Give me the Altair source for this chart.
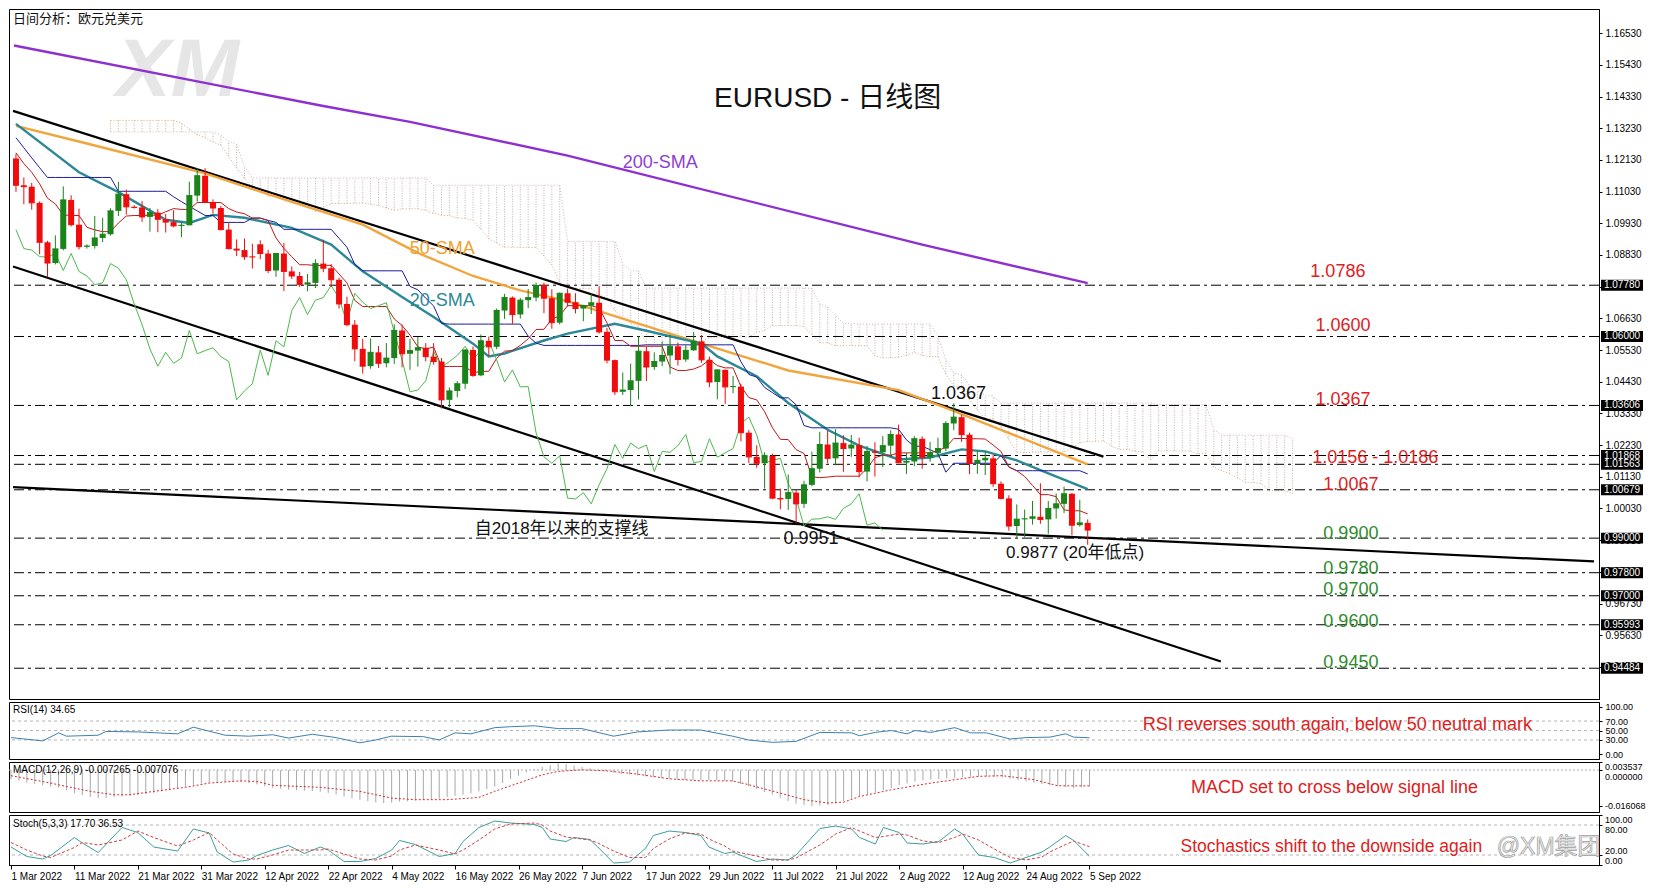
import altair as alt
import pandas as pd

# ---------------- data ----------------
date_labels = ["1 Mar 2022", "11 Mar 2022", "21 Mar 2022", "31 Mar 2022", "12 Apr 2022",
               "22 Apr 2022", "4 May 2022", "16 May 2022", "26 May 2022", "7 Jun 2022",
               "17 Jun 2022", "29 Jun 2022", "11 Jul 2022", "21 Jul 2022", "2 Aug 2022",
               "12 Aug 2022", "24 Aug 2022", "5 Sep 2022"]

opens = [1.1218, 1.1125, 1.1120, 1.1064, 1.0927, 1.0855, 1.0904, 1.1074, 1.0988, 1.0912,
         1.0914, 1.0942, 1.0955, 1.1036, 1.1094, 1.1050, 1.1048, 1.1015, 1.1030, 1.1007,
         1.0997, 1.0984, 1.0986, 1.1089, 1.1158, 1.1067, 1.1046, 1.0971, 1.0905, 1.0900,
         1.0877, 1.0920, 1.0888, 1.0829, 1.0888, 1.0826, 1.0810, 1.0780, 1.0786, 1.0853,
         1.0837, 1.0797, 1.0713, 1.0641, 1.0557, 1.0497, 1.0545, 1.0507, 1.0525, 1.0621,
         1.0540, 1.0551, 1.0561, 1.0530, 1.0513, 1.0380, 1.0411, 1.0436, 1.0553, 1.0465,
         1.0585, 1.0564, 1.0690, 1.0735, 1.0676, 1.0726, 1.0735, 1.0777, 1.0733, 1.0648,
         1.0750, 1.0719, 1.0697, 1.0707, 1.0717, 1.0616, 1.0518, 1.0408, 1.0414, 1.0446,
         1.0549, 1.0494, 1.0513, 1.0534, 1.0566, 1.0520, 1.0552, 1.0583, 1.0519, 1.0442,
         1.0484, 1.0425, 1.0426, 1.0266, 1.0182, 1.0160, 1.0186, 1.0039, 1.0036, 1.0058,
         1.0019, 1.0085, 1.0141, 1.0225, 1.0177, 1.0230, 1.0211, 1.0223, 1.0131, 1.0201,
         1.0198, 1.0221, 1.0260, 1.0162, 1.0166, 1.0245, 1.0181, 1.0196, 1.0211, 1.0298,
         1.0320, 1.0259, 1.0160, 1.0170, 1.0177, 1.0089, 1.0038, 0.9942, 0.9966, 0.9967,
         0.9974, 0.9965, 1.0003, 1.0019, 1.0054, 0.9945, 0.9953]
highs = [1.1234, 1.1152, 1.1133, 1.1069, 1.0932, 1.0951, 1.1121, 1.1090, 1.1044, 1.0920,
         1.1018, 1.1012, 1.1045, 1.1137, 1.1110, 1.1056, 1.1070, 1.1046, 1.1042, 1.1025,
         1.1038, 1.0995, 1.1137, 1.1185, 1.1184, 1.1076, 1.1053, 1.0995, 1.0937, 1.0940,
         1.0922, 1.0934, 1.0901, 1.0890, 1.0925, 1.0843, 1.0824, 1.0817, 1.0868, 1.0936,
         1.0851, 1.0804, 1.0738, 1.0657, 1.0592, 1.0593, 1.0567, 1.0577, 1.0642, 1.0641,
         1.0592, 1.0598, 1.0577, 1.0577, 1.0525, 1.0423, 1.0445, 1.0555, 1.0565, 1.0607,
         1.0600, 1.0697, 1.0748, 1.0739, 1.0734, 1.0765, 1.0787, 1.0787, 1.0764, 1.0753,
         1.0765, 1.0750, 1.0710, 1.0748, 1.0774, 1.0630, 1.0520, 1.0475, 1.0506, 1.0601,
         1.0565, 1.0545, 1.0583, 1.0606, 1.0579, 1.0570, 1.0615, 1.0605, 1.0530, 1.0486,
         1.0486, 1.0463, 1.0436, 1.0275, 1.0222, 1.0198, 1.0193, 1.0072, 1.0121, 1.0068,
         1.0099, 1.0200, 1.0269, 1.0273, 1.0278, 1.0257, 1.0258, 1.0249, 1.0220, 1.0233,
         1.0254, 1.0274, 1.0294, 1.0197, 1.0254, 1.0253, 1.0234, 1.0249, 1.0306, 1.0368,
         1.0328, 1.0266, 1.0203, 1.0202, 1.0188, 1.0097, 1.0049, 1.0017, 0.9999, 1.0029,
         1.0090, 1.0029, 1.0055, 1.0079, 1.0057, 1.0033, 0.9965]
lows = [1.1102, 1.1059, 1.1040, 1.0885, 1.0806, 1.0850, 1.0899, 1.0982, 1.0902, 1.0905,
        1.0905, 1.0928, 1.0950, 1.1018, 1.1023, 1.1044, 1.0998, 1.0964, 1.0962, 1.0961,
        1.0979, 1.0945, 1.0986, 1.1068, 1.1063, 1.1027, 1.0968, 1.0902, 1.0879, 1.0866,
        1.0836, 1.0868, 1.0820, 1.0807, 1.0758, 1.0800, 1.0772, 1.0757, 1.0768, 1.0823,
        1.0772, 1.0697, 1.0635, 1.0514, 1.0471, 1.0488, 1.0491, 1.0493, 1.0505, 1.0493,
        1.0484, 1.0495, 1.0514, 1.0502, 1.0350, 1.0354, 1.0389, 1.0418, 1.0460, 1.0462,
        1.0532, 1.0556, 1.0661, 1.0643, 1.0662, 1.0698, 1.0722, 1.0681, 1.0627, 1.0642,
        1.0704, 1.0680, 1.0653, 1.0678, 1.0610, 1.0507, 1.0397, 1.0397, 1.0358, 1.0381,
        1.0445, 1.0484, 1.0497, 1.0469, 1.0499, 1.0512, 1.0550, 1.0509, 1.0424, 1.0382,
        1.0366, 1.0403, 1.0236, 1.0161, 1.0144, 1.0072, 1.0035, 1.0000, 0.9998, 0.9951,
        1.0005, 1.0080, 1.0128, 1.0160, 1.0153, 1.0130, 1.0182, 1.0111, 1.0097, 1.0114,
        1.0146, 1.0182, 1.0160, 1.0123, 1.0150, 1.0141, 1.0165, 1.0179, 1.0202, 1.0275,
        1.0234, 1.0122, 1.0123, 1.0119, 1.0078, 1.0034, 0.9926, 0.9899, 0.9903, 0.9947,
        0.9950, 0.9915, 0.9968, 0.9987, 0.9910, 0.9940, 0.9877]
closes = [1.1125, 1.1120, 1.1064, 1.0927, 1.0855, 1.0904, 1.1074, 1.0988, 1.0912, 1.0914,
          1.0942, 1.0955, 1.1036, 1.1094, 1.1050, 1.1048, 1.1015, 1.1030, 1.1007, 1.0997,
          1.0984, 1.0986, 1.1089, 1.1158, 1.1067, 1.1046, 1.0971, 1.0905, 1.0900, 1.0877,
          1.0876, 1.0888, 1.0829, 1.0888, 1.0826, 1.0810, 1.0780, 1.0786, 1.0853, 1.0837,
          1.0797, 1.0713, 1.0641, 1.0557, 1.0497, 1.0545, 1.0507, 1.0525, 1.0621, 1.0540,
          1.0551, 1.0561, 1.0530, 1.0513, 1.0380, 1.0411, 1.0436, 1.0553, 1.0465, 1.0585,
          1.0564, 1.0690, 1.0735, 1.0676, 1.0726, 1.0735, 1.0777, 1.0733, 1.0648, 1.0750,
          1.0719, 1.0697, 1.0707, 1.0717, 1.0616, 1.0518, 1.0408, 1.0414, 1.0446, 1.0549,
          1.0494, 1.0513, 1.0534, 1.0566, 1.0520, 1.0552, 1.0583, 1.0519, 1.0442, 1.0484,
          1.0425, 1.0426, 1.0266, 1.0182, 1.0160, 1.0186, 1.0039, 1.0036, 1.0058, 1.0019,
          1.0085, 1.0141, 1.0225, 1.0177, 1.0230, 1.0211, 1.0223, 1.0131, 1.0201, 1.0198,
          1.0221, 1.0260, 1.0162, 1.0166, 1.0245, 1.0181, 1.0196, 1.0211, 1.0298, 1.0320,
          1.0259, 1.0160, 1.0170, 1.0177, 1.0089, 1.0038, 0.9942, 0.9966, 0.9967, 0.9974,
          0.9965, 1.0003, 1.0019, 1.0054, 0.9945, 0.9953, 0.9928]

sma20_bar = [0, 8, 13, 19, 22, 25, 29, 35, 40, 44, 49, 53, 58, 60, 62, 67, 70, 76, 80, 87,
             89, 94, 98, 103, 107, 112, 116, 120, 123, 127, 131, 136]
sma20_val = [1.1338, 1.1170, 1.1101, 1.1005, 1.0994, 1.1022, 1.1012, 1.0977, 1.0919, 1.0826,
             1.0737, 1.0668, 1.0575, 1.0531, 1.0541, 1.0586, 1.0610, 1.0644, 1.0620, 1.0575,
             1.0531, 1.0462, 1.0369, 1.0276, 1.0221, 1.0173, 1.0180, 1.0208, 1.0201, 1.0170,
             1.0125, 1.0070]
sma50_bar = [0, 9, 24, 35, 44, 51, 58, 64, 70, 87, 98, 112, 118, 125, 136]
sma50_val = [1.1331, 1.1270, 1.1166, 1.1067, 1.0988, 1.0890, 1.0810, 1.0760, 1.0723, 1.0575,
             1.0482, 1.0414, 1.0352, 1.0276, 1.0156]
sma200_bar = [-0.25, 39, 50, 70, 115, 136]
sma200_val = [1.1610, 1.1400, 1.1345, 1.1228, 1.0919, 1.0785]

tenkan = [1.1238, 1.1200, 1.1170, 1.1130, 1.1080, 1.1060, 1.1022, 1.1020, 1.1020, 1.0979,
          1.0970, 1.0964, 1.0964, 1.0994, 1.1018, 1.1020, 1.1020, 1.1021, 1.1021, 1.1033,
          1.1044, 1.1041, 1.1041, 1.1065, 1.1065, 1.1065, 1.1065, 1.1044, 1.1032, 1.1026,
          1.1011, 1.1011, 1.1002, 1.0942, 1.0906, 1.0877, 1.0849, 1.0849, 1.0846, 1.0847,
          1.0847, 1.0817, 1.0786, 1.0725, 1.0704, 1.0704, 1.0704, 1.0704, 1.0661, 1.0638,
          1.0605, 1.0564, 1.0557, 1.0563, 1.0496, 1.0496, 1.0496, 1.0496, 1.0474, 1.0479,
          1.0479, 1.0524, 1.0549, 1.0551, 1.0569, 1.0592, 1.0624, 1.0625, 1.0660, 1.0672,
          1.0707, 1.0707, 1.0707, 1.0707, 1.0699, 1.0647, 1.0586, 1.0586, 1.0566, 1.0566,
          1.0566, 1.0566, 1.0566, 1.0494, 1.0482, 1.0482, 1.0487, 1.0498, 1.0520, 1.0499,
          1.0491, 1.0491, 1.0426, 1.0388, 1.0380, 1.0339, 1.0283, 1.0243, 1.0242, 1.0207,
          1.0194, 1.0113, 1.0110, 1.0112, 1.0115, 1.0115, 1.0115, 1.0115, 1.0142, 1.0179,
          1.0188, 1.0188, 1.0196, 1.0196, 1.0196, 1.0196, 1.0196, 1.0204, 1.0215, 1.0246,
          1.0246, 1.0245, 1.0245, 1.0244, 1.0223, 1.0201, 1.0147, 1.0134, 1.0114, 1.0083,
          1.0051, 1.0051, 1.0044, 0.9998, 0.9995, 0.9995, 0.9984]
kijun = [1.1290, 1.1255, 1.1220, 1.1186, 1.1152, 1.1152, 1.1152, 1.1152, 1.1152, 1.1152,
         1.1152, 1.1152, 1.1152, 1.1104, 1.1104, 1.1104, 1.1104, 1.1104, 1.1104, 1.1104,
         1.1085, 1.1068, 1.1052, 1.1036, 1.1020, 1.1020, 1.0996, 1.0996, 1.0996, 1.0996,
         1.1011, 1.1011, 1.1003, 1.0996, 1.0972, 1.0972, 1.0972, 1.0972, 1.0972, 1.0972,
         1.0972, 1.0941, 1.0910, 1.0850, 1.0828, 1.0828, 1.0828, 1.0828, 1.0828, 1.0828,
         1.0774, 1.0762, 1.0733, 1.0706, 1.0645, 1.0643, 1.0643, 1.0643, 1.0643, 1.0643,
         1.0643, 1.0643, 1.0643, 1.0643, 1.0643, 1.0601, 1.0577, 1.0569, 1.0569, 1.0569,
         1.0569, 1.0569, 1.0569, 1.0569, 1.0569, 1.0569, 1.0569, 1.0569, 1.0569, 1.0569,
         1.0571, 1.0571, 1.0571, 1.0571, 1.0571, 1.0571, 1.0571, 1.0571, 1.0571, 1.0571,
         1.0571, 1.0571, 1.0512, 1.0468, 1.0459, 1.0423, 1.0405, 1.0387, 1.0387, 1.0363,
         1.0291, 1.0283, 1.0283, 1.0283, 1.0283, 1.0283, 1.0283, 1.0283, 1.0283, 1.0283,
         1.0283, 1.0283, 1.0278, 1.0241, 1.0219, 1.0219, 1.0207, 1.0194, 1.0129, 1.0160,
         1.0160, 1.0160, 1.0160, 1.0160, 1.0160, 1.0187, 1.0147, 1.0134, 1.0134, 1.0134,
         1.0134, 1.0134, 1.0134, 1.0134, 1.0134, 1.0134, 1.0123]

cloud_first_bar = 12
cloud_a = [1.1350, 1.1350, 1.1350, 1.1350, 1.1350, 1.1350, 1.1350, 1.1350, 1.1350,
           1.1340, 1.1320, 1.1300, 1.1290, 1.1275, 1.1264, 1.1225, 1.1185, 1.1148, 1.1116,
           1.1106, 1.1087, 1.1086, 1.1086, 1.1066, 1.1061, 1.1058, 1.1034, 1.1049, 1.1061,
           1.1062, 1.1062, 1.1063, 1.1063, 1.1059, 1.1055, 1.1046, 1.1038, 1.1043, 1.1043,
           1.1043, 1.1038, 1.1027, 1.1021, 1.1019, 1.1011, 1.1010, 1.1003, 1.0973, 1.0939,
           1.0925, 1.0910, 1.0910, 1.0909, 1.0909, 1.0909, 1.0879, 1.0848, 1.0788, 1.0766,
           1.0766, 1.0766, 1.0766, 1.0745, 1.0733, 1.0690, 1.0663, 1.0645, 1.0635, 1.0571,
           1.0569, 1.0569, 1.0569, 1.0558, 1.0561, 1.0561, 1.0583, 1.0596, 1.0597, 1.0606,
           1.0597, 1.0601, 1.0597, 1.0615, 1.0621, 1.0638, 1.0638, 1.0638, 1.0638, 1.0634,
           1.0608, 1.0578, 1.0578, 1.0568, 1.0568, 1.0568, 1.0568, 1.0568, 1.0532, 1.0526,
           1.0526, 1.0528, 1.0534, 1.0545, 1.0534, 1.0530, 1.0530, 1.0469, 1.0428, 1.0420,
           1.0381, 1.0344, 1.0315, 1.0314, 1.0285, 1.0243, 1.0198, 1.0197, 1.0198, 1.0199,
           1.0199, 1.0199, 1.0199, 1.0213, 1.0231, 1.0236, 1.0236, 1.0237, 1.0219, 1.0208,
           1.0208, 1.0202, 1.0199, 1.0172, 1.0203, 1.0203, 1.0203, 1.0203, 1.0202, 1.0192,
           1.0194, 1.0147, 1.0134, 1.0124, 1.0109, 1.0093, 1.0093, 1.0089, 1.0066, 1.0065,
           1.0065, 1.0054]
cloud_b = [1.1310, 1.1310, 1.1310, 1.1310, 1.1310, 1.1310, 1.1310, 1.1310, 1.1310, 1.1310,
           1.1310, 1.1310, 1.1310, 1.1310, 1.1299, 1.1277, 1.1268, 1.1190,
           1.1150, 1.1150, 1.1150, 1.1150, 1.1150, 1.1150, 1.1150, 1.1150, 1.1150, 1.1150,
           1.1150, 1.1150, 1.1150, 1.1150, 1.1150, 1.1150, 1.1150, 1.1150, 1.1150, 1.1150,
           1.1150, 1.1150, 1.1150,
           1.1125, 1.1125, 1.1125, 1.1125, 1.1125, 1.1125, 1.1125, 1.1125, 1.1125, 1.1125,
           1.1125, 1.1125, 1.1125, 1.1125, 1.1125, 1.1125, 1.1125,
           1.0930, 1.0930, 1.0930, 1.0930, 1.0930, 1.0930, 1.0930, 1.0853, 1.0828, 1.0828,
           1.0768, 1.0768, 1.0768, 1.0768, 1.0768, 1.0768, 1.0768, 1.0768, 1.0768, 1.0768,
           1.0768, 1.0768, 1.0768, 1.0768, 1.0768, 1.0768, 1.0768, 1.0768, 1.0768, 1.0768,
           1.0768, 1.0767, 1.0713, 1.0702, 1.0673, 1.0645, 1.0645,
           1.0643, 1.0643, 1.0643, 1.0643, 1.0643, 1.0643, 1.0643, 1.0643, 1.0643, 1.0643,
           1.0601, 1.0520, 1.0474, 1.0466, 1.0430, 1.0411, 1.0394, 1.0393,
           1.0369, 1.0369, 1.0369, 1.0369, 1.0369, 1.0369, 1.0369, 1.0369, 1.0369, 1.0369,
           1.0369, 1.0369, 1.0369, 1.0369, 1.0369, 1.0369, 1.0369, 1.0369, 1.0369, 1.0369,
           1.0363, 1.0363, 1.0363, 1.0363, 1.0363, 1.0363, 1.0363, 1.0278,
           1.0257, 1.0257, 1.0257, 1.0257, 1.0257, 1.0257, 1.0257, 1.0257, 1.0257, 1.0246]

chikou_shift = 26

trend_id = ["upper", "upper", "lower", "lower", "support", "support"]
trend_bar = [-0.375, 138.0, -0.375, 152.9, -0.375, 200.25]
trend_price = [1.1383, 1.0183, 1.0843, 0.9472, 1.0077, 0.9819]

levels = [1.0778, 1.0600, 1.03606, 1.01868, 1.01563, 1.00679, 0.9900, 0.9780, 0.9700,
          0.95993, 0.94484]
level_labels = ["1.07780", "1.06000", "1.03606", "1.01868", "1.01563", "1.00679", "0.99000",
                "0.97800", "0.97000", "0.95993", "0.94484"]
price_ticks = [1.1653, 1.1543, 1.1433, 1.1323, 1.1213, 1.1103, 1.0993, 1.0883, 1.0773,
               1.0663, 1.0553, 1.0443, 1.0333, 1.0223, 1.0113, 1.0003, 0.9893, 0.9783,
               0.9673, 0.9563, 0.9453]

rsi_bar = [0, 4, 6, 7, 11, 12, 16, 21, 23, 27, 30, 33, 35, 38, 41, 44, 46, 48, 52, 54,
           56, 58, 61, 63, 66, 69, 72, 76, 79, 83, 87, 91, 93, 96, 99, 102, 106, 107, 109, 111,
           113, 114, 116, 119, 121, 123, 126, 128, 131, 133, 134, 136]
rsi_val = [35, 28, 45, 38, 40, 48, 47, 43, 57, 40, 38, 41, 34, 42, 35, 24, 30, 38, 37, 30,
           45, 43, 56, 58, 60, 54, 54, 38, 47, 51, 51, 38, 30, 25, 27, 46, 45, 39, 46, 50,
           43, 50, 46, 56, 45, 45, 32, 35, 36, 43, 36, 34.65]

macd_val = [-0.0040, -0.0048, -0.0055, -0.0062, -0.0068, -0.0074, -0.0078, -0.0090, -0.0104, -0.0112,
            -0.0120, -0.0125, -0.0124, -0.0120, -0.0118, -0.0115, -0.0111, -0.0108, -0.0102, -0.0096,
            -0.0090, -0.0083, -0.0074, -0.0066, -0.0060, -0.0057, -0.0054, -0.0052, -0.0053, -0.0055,
            -0.0058, -0.0064, -0.0072, -0.0079, -0.0083, -0.0087, -0.0090, -0.0092, -0.0094, -0.0097,
            -0.0102, -0.0109, -0.0118, -0.0126, -0.0133, -0.0139, -0.0144, -0.0147, -0.0145, -0.0141,
            -0.0139, -0.0136, -0.0133, -0.0130, -0.0127, -0.0120, -0.0115, -0.0110, -0.0104, -0.0095,
            -0.0085, -0.0073, -0.0058, -0.0040, -0.0025, -0.0010, 0.0005, 0.0014, 0.0022, 0.0030,
            0.0026, 0.0020, 0.0014, 0.0008, 0.0002, -0.0006, -0.0012, -0.0017, -0.0020, -0.0024,
            -0.0028, -0.0032, -0.0036, -0.0040, -0.0043, -0.0044, -0.0044, -0.0044, -0.0045, -0.0046,
            -0.0048, -0.0052, -0.0062, -0.0072, -0.0085, -0.0098, -0.0110, -0.0124, -0.0138, -0.0150,
            -0.0156, -0.0160, -0.0158, -0.0155, -0.0148, -0.0138, -0.0127, -0.0118, -0.0108, -0.0098,
            -0.0090, -0.0080, -0.0068, -0.0060, -0.0052, -0.0046, -0.0042, -0.0040, -0.0037, -0.0035,
            -0.0032, -0.0030, -0.0028, -0.0028, -0.0030, -0.0033, -0.0038, -0.0044, -0.0050, -0.0056,
            -0.0062, -0.0068, -0.0072, -0.0075, -0.0080, -0.0076, -0.007265]
signal_bar = [0, 4, 7, 10, 13, 15, 18, 22, 25, 29, 31, 33, 39, 44, 48, 51, 55, 59, 61, 64,
              67, 69, 72, 75, 79, 83, 87, 91, 93, 97, 100, 103, 105, 107, 111, 116, 122, 125, 129, 132,
              136]
signal_val = [-0.0025, -0.0051, -0.0073, -0.0095, -0.0110, -0.0110, -0.0095, -0.0077, -0.0058, -0.0048,
              -0.0051, -0.0068, -0.0077, -0.0095, -0.0125, -0.0132, -0.0132, -0.0122, -0.0095, -0.0058,
              -0.0021, -0.0006, 0.0001, -0.0003, -0.0018, -0.0039, -0.0048, -0.0048, -0.0065, -0.0103,
              -0.0132, -0.0147, -0.0143, -0.0118, -0.0088, -0.0058, -0.0028, -0.0025, -0.0043, -0.0070,
              -0.007076]
macd_ticks = [0.003537, 0.0, -0.016068]
macd_tick_labels = ["0.003537", "0.000000", "-0.016068"]

stk_bar = [0, 2, 4, 5, 8, 9, 11, 14, 16, 18, 21, 23, 25, 26, 28, 30, 31, 33, 35, 37,
           39, 40, 42, 44, 46, 48, 49, 51, 54, 56, 57, 59, 61, 63, 66, 67, 68, 70, 71, 73,
           74, 76, 78, 80, 81, 83, 85, 87, 88, 90, 91, 94, 96, 98, 99, 102, 104, 106, 107, 109,
           110, 112, 113, 115, 117, 119, 120, 122, 124, 126, 128, 130, 131, 133, 134, 136]
stk_val = [36, 17, 12, 19, 55, 44, 25, 75, 65, 36, 28, 72, 64, 26, 6, 10, 19, 30, 39, 23,
           36, 30, 7, 7, 13, 30, 49, 41, 17, 23, 47, 75, 88, 84, 81, 75, 52, 47, 55, 51,
           36, 4, 6, 33, 59, 68, 65, 59, 36, 23, 26, 7, 12, 10, 20, 73, 78, 72, 55, 42,
           75, 65, 44, 42, 47, 72, 62, 20, 15, 4, 15, 26, 36, 59, 49, 17.7]
std_bar = [0, 2, 4, 5, 8, 9, 11, 14, 16, 18, 21, 23, 25, 26, 28, 30, 31, 33, 35, 37,
           39, 40, 42, 44, 46, 48, 49, 51, 54, 56, 57, 59, 61, 63, 66, 67, 68, 70, 73, 74,
           76, 78, 80, 81, 83, 85, 87, 88, 90, 91, 94, 96, 98, 99, 102, 104, 106, 107, 109, 110,
           112, 113, 115, 117, 119, 120, 122, 124, 126, 128, 130, 131, 133, 134, 136]
std_val = [45, 30, 18, 15, 35, 45, 40, 50, 68, 55, 38, 50, 65, 50, 22, 12, 12, 20, 30, 30,
           30, 32, 22, 12, 10, 18, 30, 40, 30, 22, 30, 50, 72, 82, 84, 80, 68, 56, 50, 44,
           28, 15, 15, 33, 52, 64, 62, 52, 38, 28, 18, 10, 10, 14, 40, 62, 75, 68, 55, 57,
           62, 60, 48, 45, 55, 62, 50, 32, 15, 10, 16, 26, 41, 48, 36.53]
sto_ticks = [100, 80, 20, 0]
sto_tick_labels = ["100.00", "80.00", "20.00", "0.00"]

# annotation texts (position in bar / price units)
ann_text = ["EURUSD - 日线图", "200-SMA", "50-SMA", "20-SMA", "1.0786", "1.0600", "1.0367",
            "1.0156 - 1.0186", "1.0067", "0.9900", "0.9780", "0.9700", "0.9600", "0.9450",
            "1.0367", "0.9951", "0.9877 (20年低点)", "自2018年以来的支撑线"]
ann_bar = [103, 81.75, 54.1, 54.1, 167.75, 168.4, 168.4, 172.5, 169.4, 169.4, 169.4, 169.4,
           169.4, 169.4, 119.6, 100.9, 134.4, 69.25]
ann_price = [1.1424, 1.1201, 1.0902, 1.0723, 1.0823, 1.0637, 1.0379, 1.0177, 1.0084, 0.9916,
             0.9792, 0.9720, 0.9610, 0.9465, 1.0400, 0.9898, 0.9847, 0.9933]

# ---------------- styles ----------------
FONT = "Liberation Sans, Noto Sans CJK SC, sans-serif"
RED, GREEN = "#f00c0c", "#1a831a"
LVL_RED, LVL_GREEN = "#e0201c", "#2e8b2e"
ann_color = ["#111111", "#8e3fcf", "#f0a030", "#2b8a96"] + [LVL_RED] * 5 + [LVL_GREEN] * 5 + ["#111111"] * 4
ann_size = [28, 18, 18, 18] + [18] * 10 + [18, 18, 17, 17]

W = 1590
H_MAIN, H_RSI, H_MACD, H_STO = 690, 57, 50, 50

xs = alt.Scale(domain=[-0.25, 200.25], nice=False, zero=False)
ys_main = alt.Scale(domain=[0.93416, 1.17368], nice=False, zero=False)
main_axis = alt.Axis(orient="right", values=price_ticks, format=".5f", title=None, grid=False,
                     labelOverlap=False, labelFlush=False, tickSize=3, labelPadding=3)


def XB(field="i"):
    return alt.X(f"{field}:Q", scale=xs, axis=None)


def YM(field):
    return alt.Y(f"{field}:Q", scale=ys_main, axis=main_axis)


# ---------------- main panel ----------------
n = len(closes)
cdf = pd.DataFrame({"i": list(range(n)), "o": opens, "h": highs, "l": lows, "c": closes})
cdf["col"] = [GREEN if c >= o else RED for o, c in zip(opens, closes)]

wicks = alt.Chart(cdf).mark_rule(strokeWidth=1, opacity=1).encode(
    x=XB(), y=YM("l"), y2="h:Q", color=alt.Color("col:N", scale=None))
bodies = alt.Chart(cdf).mark_bar(size=6, strokeWidth=0, opacity=1).encode(
    x=XB(), y=YM("o"), y2="c:Q", color=alt.Color("col:N", scale=None))
closemark = alt.Chart(cdf).transform_calculate(
    i0="datum.i - 0.38", i1="datum.i + 0.38").mark_rule(strokeWidth=1).encode(
    x=XB("i0"), x2="i1:Q", y=YM("c"), color=alt.Color("col:N", scale=None))

cloud_df = pd.DataFrame({"i": [cloud_first_bar + k for k in range(len(cloud_a))],
                         "a": cloud_a, "b": cloud_b})
cloud_df["col"] = ["#dcae88" if a > b else "#bdb3b0" for a, b in zip(cloud_a, cloud_b)]
cloud = alt.Chart(cloud_df).mark_rule(strokeDash=[1, 1.5], strokeWidth=1).encode(
    x=XB(), y=YM("a"), y2="b:Q", color=alt.Color("col:N", scale=None))
cloud_edge_a = alt.Chart(cloud_df).mark_line(strokeDash=[1, 2], strokeWidth=1, color="#d7ab86").encode(
    x=XB(), y=YM("a"))
cloud_edge_b = alt.Chart(cloud_df).mark_line(strokeDash=[1, 2], strokeWidth=1, color="#c9b3b3").encode(
    x=XB(), y=YM("b"))

lv_df = pd.DataFrame({"lv": levels, "lab": level_labels})
hlines = alt.Chart(lv_df).mark_rule(strokeDash=[10, 4, 3, 4], strokeWidth=1, color="black").encode(
    y=YM("lv"))

tr_df = pd.DataFrame({"id": trend_id, "i": trend_bar, "p": trend_price})
trends = alt.Chart(tr_df).mark_line(strokeWidth=2.2, color="black", clip=True).encode(
    x=XB(), y=YM("p"), detail="id:N")


def line_layer(bars, vals, color, width, dash=None, clip=False):
    df = pd.DataFrame({"i": bars, "p": vals})
    kw = dict(color=color, strokeWidth=width, clip=clip)
    if dash:
        kw["strokeDash"] = dash
    return alt.Chart(df).mark_line(**kw).encode(x=XB(), y=YM("p"))


sma200 = line_layer(sma200_bar, sma200_val, "#8e2fd0", 2.4, clip=True)
sma50 = line_layer(sma50_bar, sma50_val, "#f2a53c", 2.4)
sma20 = line_layer(sma20_bar, sma20_val, "#2b8896", 2.4)
tk = line_layer(list(range(n)), tenkan, "#c01818", 1)
kj = line_layer(list(range(n)), kijun, "#1c1c9c", 1)
ch = line_layer(list(range(n - chikou_shift)), closes[chikou_shift:], "#4cb84c", 1)

ann_df = pd.DataFrame({"i": ann_bar, "p": ann_price, "t": ann_text, "tc": ann_color, "ts": ann_size})
ann = alt.Chart(ann_df).mark_text(font=FONT, align="center", baseline="middle").encode(
    x=XB(), y=YM("p"), text="t:N",
    color=alt.Color("tc:N", scale=None), size=alt.Size("ts:Q", scale=None))

hdr = alt.Chart(pd.DataFrame({"t": ["日间分析：欧元兑美元"]})).mark_text(
    font=FONT, fontSize=13, align="left", baseline="middle", color="#111111").encode(
    x=alt.value(4), y=alt.value(10), text="t:N")

logo = alt.Chart(pd.DataFrame({"t": ["XM"], "i": [20.5], "p": [1.1520]})).mark_text(
    font="Liberation Sans", fontSize=82, fontWeight="bold", fontStyle="italic",
    color="#e6e6e6", align="center", baseline="middle").encode(
    x=XB(), y=YM("p"), text="t:N")

BOX = "M-1,-0.26L1,-0.26L1,0.26L-1,0.26Z"
boxes = alt.Chart(lv_df).mark_point(shape=BOX, size=1764, filled=True, color="black",
                                    opacity=1, strokeWidth=0).encode(
    x=alt.value(W + 23), y=YM("lv"))
boxtxt = alt.Chart(lv_df).mark_text(font="Liberation Sans", fontSize=10, color="white",
                                    align="center", baseline="middle").encode(
    x=alt.value(W + 23), y=YM("lv"), text="lab:N")

main = alt.layer(logo, cloud, cloud_edge_a, cloud_edge_b, hlines, trends, sma200, sma50, sma20,
                 kj, tk, ch, wicks, bodies, closemark, ann, hdr, boxes, boxtxt
                 ).properties(width=W, height=H_MAIN)

# ---------------- RSI ----------------
ys_rsi = alt.Scale(domain=[-10.2, 110.2], nice=False, zero=False)
rsi_axis = alt.Axis(orient="right", values=[0, 30, 50, 70, 100], format=".2f", title=None,
                    grid=False, labelOverlap=False, labelFlush=False, tickSize=3, labelPadding=3,
                    labelFontSize=9)
rsi_lv = alt.Chart(pd.DataFrame({"v": [70, 50, 30]})).mark_rule(
    strokeDash=[3, 3], color="#b4b4b4", strokeWidth=1).encode(
    y=alt.Y("v:Q", scale=ys_rsi, axis=rsi_axis))
rsi_line = alt.Chart(pd.DataFrame({"i": rsi_bar, "v": rsi_val})).mark_line(
    color="#3f7fb0", strokeWidth=1).encode(x=XB(), y=alt.Y("v:Q", scale=ys_rsi, axis=rsi_axis))
rsi_hdr = alt.Chart(pd.DataFrame({"t": ["RSI(14) 34.65"]})).mark_text(
    font="Liberation Sans", fontSize=10, align="left", baseline="middle", color="black").encode(
    x=alt.value(4), y=alt.value(8), text="t:N")
rsi_note = alt.Chart(pd.DataFrame({"t": ["RSI reverses south again, below 50 neutral mark"],
                                   "i": [167.25], "v": [61]})).mark_text(
    font=FONT, fontSize=18, color="#e0201c", align="center", baseline="middle").encode(
    x=XB(), y=alt.Y("v:Q", scale=ys_rsi, axis=rsi_axis), text="t:N")
rsi = alt.layer(rsi_lv, rsi_line, rsi_hdr, rsi_note).properties(width=W, height=H_RSI)

# ---------------- MACD ----------------
ys_macd = alt.Scale(domain=[-0.0187, 0.0036], nice=False, zero=False)
macd_axis = alt.Axis(orient="right", values=macd_ticks, labels=False, title=None,
                     grid=False, tickSize=3)
macd_df = pd.DataFrame({"i": list(range(len(macd_val))), "v": macd_val, "z": [0.0] * len(macd_val)})
macd_zero = alt.Chart(pd.DataFrame({"v": [0.0]})).mark_rule(
    strokeDash=[2, 2], color="#b0b0b0", strokeWidth=1).encode(
    y=alt.Y("v:Q", scale=ys_macd, axis=macd_axis))
macd_hist = alt.Chart(macd_df).mark_rule(color="#a8a8a8", strokeWidth=1).encode(
    x=XB(), y=alt.Y("v:Q", scale=ys_macd, axis=macd_axis), y2="z:Q")
macd_sig = alt.Chart(pd.DataFrame({"i": signal_bar, "v": signal_val})).mark_line(
    color="#d03030", strokeDash=[2, 2], strokeWidth=1).encode(
    x=XB(), y=alt.Y("v:Q", scale=ys_macd, axis=macd_axis))
macd_hdr = alt.Chart(pd.DataFrame({"t": ["MACD(12,26,9) -0.007265 -0.007076"]})).mark_text(
    font="Liberation Sans", fontSize=10, align="left", baseline="middle", color="black").encode(
    x=alt.value(4), y=alt.value(8), text="t:N")
macd_note = alt.Chart(pd.DataFrame({"t": ["MACD set to cross below signal line"],
                                    "i": [166.9], "v": [-0.0078]})).mark_text(
    font=FONT, fontSize=18, color="#e0201c", align="center", baseline="middle").encode(
    x=XB(), y=alt.Y("v:Q", scale=ys_macd, axis=macd_axis), text="t:N")
# tick labels of the MACD window, nudged apart so they do not sit on each other
macd_lab_df = pd.DataFrame({"t": macd_tick_labels, "py": [4.5, 14.5, 44.0]})
macd_labels = alt.Chart(macd_lab_df).mark_text(
    font="Liberation Sans", fontSize=9, align="left", baseline="middle", color="black").encode(
    x=alt.value(W + 6), y=alt.Y("py:Q", scale=None), text="t:N")
macd = alt.layer(macd_zero, macd_hist, macd_sig, macd_hdr, macd_note, macd_labels
                 ).properties(width=W, height=H_MACD)

# ---------------- Stochastic ----------------
ys_sto = alt.Scale(domain=[0, 100], nice=False, zero=False)
sto_axis = alt.Axis(orient="right", values=sto_ticks, labels=False, title=None,
                    grid=False, tickSize=3)
label_expr = "[" + ",".join("'" + d + "'" for d in date_labels) + "][round(datum.value / 8)]"
date_axis = alt.Axis(values=list(range(0, 137, 8)), labelExpr=label_expr, labelAlign="left",
                     labelBaseline="top", tickSize=4, labelPadding=2, grid=False, title=None,
                     labelFlush=False, labelOverlap=False)


def XD(field="i"):
    return alt.X(f"{field}:Q", scale=xs, axis=date_axis)


sto_lv = alt.Chart(pd.DataFrame({"v": [80, 20]})).mark_rule(
    strokeDash=[3, 3], color="#b4b4b4", strokeWidth=1).encode(
    y=alt.Y("v:Q", scale=ys_sto, axis=sto_axis))
sto_k = alt.Chart(pd.DataFrame({"i": stk_bar, "v": stk_val})).mark_line(
    color="#3e9e9e", strokeWidth=1).encode(x=XD(), y=alt.Y("v:Q", scale=ys_sto, axis=sto_axis))
sto_d = alt.Chart(pd.DataFrame({"i": std_bar, "v": std_val})).mark_line(
    color="#d04040", strokeDash=[3, 2], strokeWidth=1).encode(
    x=XD(), y=alt.Y("v:Q", scale=ys_sto, axis=sto_axis))
sto_hdr = alt.Chart(pd.DataFrame({"t": ["Stoch(5,3,3) 17.70 36.53"]})).mark_text(
    font="Liberation Sans", fontSize=10, align="left", baseline="middle", color="black").encode(
    x=alt.value(4), y=alt.value(9), text="t:N")
sto_note = alt.Chart(pd.DataFrame({"t": ["Stochastics shift to the downside again"],
                                   "i": [166.5], "v": [36.7]})).mark_text(
    font=FONT, fontSize=17.5, color="#e0201c", align="center", baseline="middle").encode(
    x=XD(), y=alt.Y("v:Q", scale=ys_sto, axis=sto_axis), text="t:N")
wm = alt.Chart(pd.DataFrame({"t": ["@XM集团"], "i": [193.9], "v": [36.0]})).mark_text(
    font=FONT, fontSize=23, color="#eeeeee", stroke="#a0a0a0", strokeWidth=0.7,
    align="center", baseline="middle").encode(
    x=XD(), y=alt.Y("v:Q", scale=ys_sto, axis=sto_axis), text="t:N")
sto_lab_df = pd.DataFrame({"t": sto_tick_labels, "py": [4.5, 14.5, 36.0, 45.5]})
sto_labels = alt.Chart(sto_lab_df).mark_text(
    font="Liberation Sans", fontSize=9, align="left", baseline="middle", color="black").encode(
    x=alt.value(W + 6), y=alt.Y("py:Q", scale=None), text="t:N")
sto = alt.layer(sto_lv, sto_k, sto_d, sto_hdr, sto_note, wm, sto_labels
                ).properties(width=W, height=H_STO)

chart = alt.vconcat(main, rsi, macd, sto, spacing=3, bounds="flush").properties(
    padding=0, background="white"
).configure_view(stroke="black", strokeWidth=1).configure_axis(
    labelFont="Liberation Sans", labelFontSize=10, labelColor="black", tickColor="black",
    domainColor="black", domainWidth=1, tickWidth=1)

chart.save("out.html", embed_options={"renderer": "svg", "actions": False})
